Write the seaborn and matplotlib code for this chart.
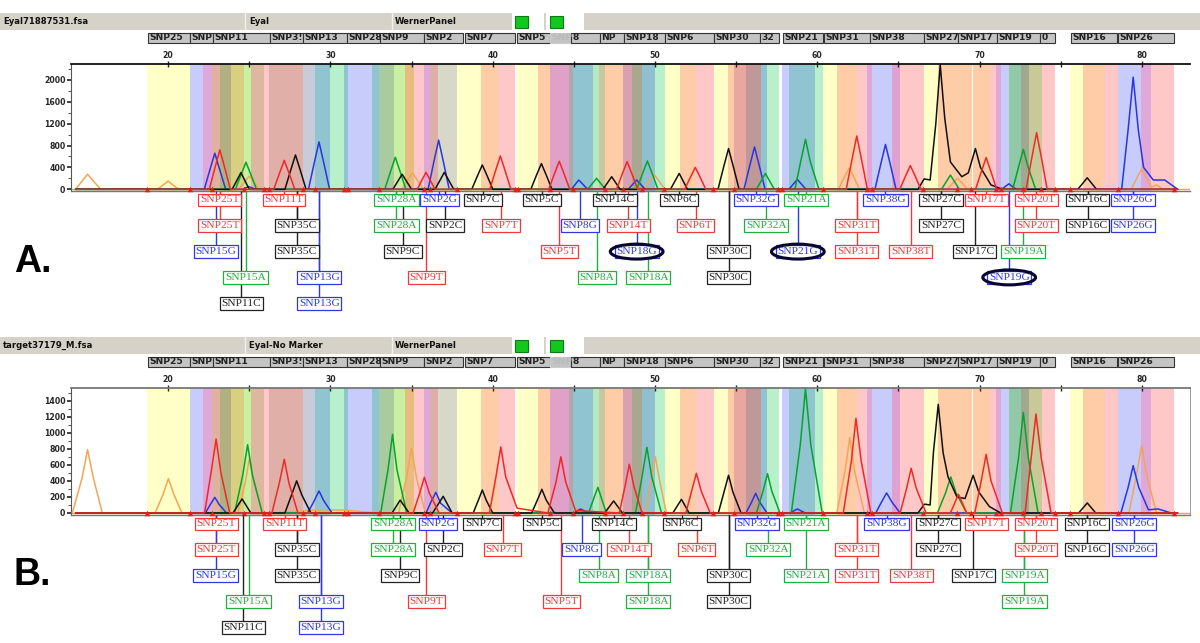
import matplotlib
matplotlib.use("Agg")
import matplotlib.pyplot as plt
from matplotlib.patches import Rectangle, Ellipse
import pandas as pd
import seaborn as sns

# ---------- shaded SNP bands (x in size units) ----------
band_start = [18.73,21.35,22.17,22.72,23.2,23.9,24.68,25.08,25.9,26.2,28.3,29.03,29.97,30.82,31.08,32.55,33,33.9,34.58,35.15,35.78,36.14,36.6,37.8,39.3,40.3,41.5,42.8,43.55,44.68,44.95,46.2,46.58,46.91,48,48.58,49.17,50,50.59,51.56,52.52,53.61,54.48,54.88,55.59,56.51,56.91,57.85,58.28,59.86,60.33,61.23,62.45,63.04,63.35,64.58,65.12,66.6,67.45,69.58,70.64,71,71.34,71.79,72.55,73.02,73.82,75.59,76.34,77.64,78.51,79.93,80.54]
band_end = [21.35,22.17,22.72,23.2,23.9,24.68,25.08,25.9,26.2,28.3,29.03,29.97,30.82,31.08,32.55,33,33.9,34.58,35.15,35.78,36.14,36.6,37.8,39.3,40.3,41.4,42.8,43.55,44.68,44.95,46.2,46.58,46.91,48,48.58,49.17,50,50.59,51.56,52.52,53.61,54.48,54.88,55.59,56.51,56.91,57.62,58.28,59.86,60.33,61.23,62.45,63.04,63.35,64.58,65.12,66.6,67.45,69.53,70.64,71,71.34,71.79,72.55,73.02,73.82,74.62,76.34,77.64,78.51,79.93,80.54,81.98]
band_color = ["#ffffc8","#c8ccfa","#e0a8d8","#e0b0a0","#b0b080","#d8d080","#c8f0a0","#dcb8a0","#ffc8c8","#e0b0a8","#c8ccd8","#90c4d0","#b8f0cc","#90c4d0","#c8ccfa","#90c4d0","#a8cca0","#c8f0a0","#e8bc80","#ffc8c8","#e0a8d8","#dcb0a8","#d8d8c8","#ffffc8","#ffcca8","#ffc8c8","#ffffc8","#ffcca8","#e0a0c8","#b0a8a8","#90c4d0","#b8e8c0","#c8c8a0","#ffcca8","#d8a0b0","#a8a890","#90c0d0","#b8f0cc","#ffffc8","#ffcca8","#ffc8c8","#ffffc8","#ffcca8","#e8a8a0","#c09898","#90c4d0","#b8f0cc","#c8ccfa","#90c4d0","#b8f0cc","#ffffc8","#ffcca8","#ffc8c8","#e0a8d8","#c8ccfa","#e0a0d0","#ffc8c8","#ffffc8","#ffcca8","#ffcca8","#ffc8c8","#e0a8d8","#c8ccfa","#90c8a8","#a0a890","#c8c898","#ffc8c8","#ffffc8","#ffcca8","#ffc8c8","#c8ccfa","#e0a8d8","#ffc8c8"]

size_marks = [18.73,21.35,22.72,24.68,25.9,26.2,28.3,29.03,30.82,31.08,33,35.78,36.14,37.8,41.4,41.55,43.55,44.95,46.91,48,49.17,50.54,53.58,54.84,57.55,57.85,60.33,63.04,63.35,66.53,68.58,69.46,71,71.34,72.65,73.78,74.62,75.59,78.51,81.98]

# ---------- panel A traces ----------
a_blue_x = [14.3,22.23,22.58,22.88,23.18,23.55,24.6,24.96,25.4,28.65,29.0,29.3,29.6,29.95,36.02,36.37,36.67,36.97,37.32,44.85,45.3,45.85,48.35,48.87,49.4,55.48,55.83,56.13,56.43,56.78,58.25,58.77,59.3,63.55,63.9,64.2,64.5,64.85,71.35,71.8,72.25,78.75,79.15,79.46,79.77,80.1,80.7,81.4,82.2]
a_blue_y = [0,0,360,660,360,0,0,50,0,0,475,866,475,0,0,495,900,495,0,0,170,0,0,170,0,0,425,775,425,0,0,180,0,0,450,820,450,0,0,100,0,0,1100,2050,1100,400,170,170,0]
a_green_x = [14.3,24.15,24.5,24.8,25.1,25.45,33.35,33.7,34,34.3,34.65,45.85,46.4,46.95,48.88,49.23,49.53,49.83,50.18,56.25,56.8,57.35,58.62,58.97,59.27,59.57,60.1,67.65,68.2,68.75,72.04,72.39,72.69,72.99,73.45,75.2]
a_green_y = [0,0,270,495,270,0,0,320,586,320,0,0,200,0,0,285,518,285,0,0,290,0,0,500,915,500,0,0,260,0,0,400,730,400,0,0]
a_black_x = [14.3,23.95,24.49,25.0,27.2,27.55,27.85,28.15,28.5,33.85,34.42,35.0,36.45,37.02,37.6,38.71,39.06,39.36,39.66,40.01,42.35,42.7,43,43.3,43.65,46.8,47.33,47.85,50.95,51.49,52.0,53.88,54.23,54.53,54.83,55.18,66.2,66.58,66.95,67.3,67.57,67.85,68.2,68.9,69.3,69.74,70.05,70.7,71.4,76.05,76.63,77.2,82.2]
a_black_y = [0,0,305,0,0,345,628,345,0,0,275,0,0,310,0,0,245,445,245,0,0,260,470,260,0,0,230,0,0,290,0,0,410,745,410,0,0,190,170,1200,2280,1300,500,230,300,745,400,80,0,0,210,0,0]
a_red_x = [14.3,22.54,22.89,23.19,23.49,23.84,26.51,26.86,27.16,27.46,27.81,35.35,35.89,36.45,39.82,40.17,40.47,40.77,41.12,43.45,43.8,44.1,44.4,44.75,47.63,47.98,48.28,48.58,48.93,51.83,52.18,52.48,52.78,53.13,61.78,62.13,62.43,62.73,63.08,65.08,65.43,65.73,66.03,66.38,69.75,70.1,70.4,70.7,71.05,72.86,73.21,73.51,73.81,74.16,82.2]
a_red_y = [0,0,395,720,395,0,0,290,530,290,0,0,310,0,0,335,610,335,0,0,280,513,280,0,0,280,506,280,0,0,220,400,220,0,0,535,976,535,0,0,240,433,240,0,0,320,580,320,0,0,570,1037,570,0,0]
a_orange_x = [14.3,14.7,15.04,15.4,15.85,19.35,19.72,20,20.28,20.65,24.35,24.7,25,25.3,25.65,34.4,34.76,35.06,35.36,35.75,49.3,49.65,49.95,50.25,50.6,61.3,61.66,61.96,62.26,62.6,68,68.33,68.63,68.93,69.25,79.35,79.68,79.98,80.28,80.6,80.9,81.3,82.2]
a_orange_y = [0,150,275,150,0,0,85,150,85,0,0,130,240,130,0,0,165,300,165,0,0,150,270,150,0,0,215,390,215,0,0,110,200,110,0,0,205,370,205,40,80,0,0]

# ---------- panel B traces ----------
b_blue_x = [14.3,22.3,22.6,22.88,23.15,23.6,28.6,29.0,29.3,29.6,30.1,35.9,36.2,36.5,36.8,37.5,45,45.41,45.9,55.6,55.95,56.2,56.45,56.9,58.3,58.77,59.25,63.6,63.95,64.27,64.6,65.1,78.7,79.15,79.46,79.8,80.4,81,81.8]
b_blue_y = [0,0,105,195,105,0,0,150,274,150,0,0,140,258,120,0,0,50,0,0,135,245,135,0,0,50,0,0,135,250,135,0,0,320,590,320,40,50,0]
b_green_x = [14.3,24.1,24.6,24.9,25.2,25.8,33.1,33.55,33.83,34.1,34.7,45.9,46.48,47,48.8,49.2,49.5,49.8,50.4,56.25,56.65,56.93,57.2,57.7,58.4,58.95,59.27,59.6,60.3,67.4,67.9,68.22,68.55,69.2,71.9,72.4,72.69,73,73.6,75.2]
b_green_y = [0,0,470,852,470,0,0,540,980,540,0,0,320,0,0,450,819,450,0,0,270,490,270,0,0,850,1550,850,0,0,250,450,250,0,0,690,1255,690,0,0]
b_black_x = [14.3,24,24.56,25.1,27.2,27.6,27.92,28.25,28.8,33.8,34.3,34.85,36.3,36.95,37.5,38.8,39.12,39.36,39.6,40,42.4,42.75,43.03,43.3,43.8,46.9,47.45,48,51.1,51.63,52.1,53.9,54.25,54.53,54.8,55.3,66.2,66.6,66.95,67.15,67.45,67.75,68.05,68.6,69.1,69.6,69.95,70.6,71.3,76.1,76.63,77.15,82.2]
b_black_y = [0,0,175,0,0,220,400,220,0,0,160,0,0,208,0,0,160,287,160,0,0,160,295,160,0,0,150,0,0,170,0,0,260,470,260,0,0,110,100,750,1355,750,450,200,180,470,260,80,0,0,125,0,0]
b_red_x = [14.3,22.25,22.65,22.96,23.25,23.8,26.4,26.85,27.16,27.45,28,35.1,35.5,35.79,36.1,36.7,39.8,40.2,40.5,40.8,41.5,43.4,43.9,44.2,44.5,45.1,47.8,48.15,48.42,48.7,49.2,51.9,52.25,52.55,52.85,53.4,61.6,62.1,62.38,62.7,63.3,65.1,65.5,65.78,66.1,66.7,68.2,68.7,69.2,69.7,70.1,70.4,70.7,71.4,72.8,73.17,73.47,73.8,74.4,82.2]
b_red_y = [0,0,505,922,505,0,0,370,670,370,0,0,245,445,245,0,0,450,823,450,60,0,385,700,385,30,0,330,607,330,0,0,270,495,270,0,0,650,1180,650,0,0,305,557,305,0,0,232,0,0,400,731,400,0,0,680,1234,680,0,0]
b_orange_x = [14.1,14.7,15.04,15.4,15.95,19.2,19.7,20.02,20.35,20.85,24.3,24.75,25,25.3,25.85,29.5,31,32,33,34.2,34.7,34.99,35.3,35.85,49.4,49.75,50.02,50.3,50.7,61.2,61.7,62,62.3,62.9,79.2,79.65,79.98,80.3,80.9,82.2]
b_orange_y = [0,435,790,435,0,0,235,430,235,0,0,370,670,370,0,40,35,15,0,0,445,806,445,0,0,385,700,385,0,0,515,940,515,0,0,460,840,460,0,0]

channel_colors = {"blue": "#2a35e0", "green": "#05a52a", "black": "#101010", "red": "#f02828", "orange": "#f2a655"}

# ---------- callouts: label, x, row, colour ----------
a_calls = [("SNP25T",23.19,0,"red"),("SNP25T",23.19,1,"red"),("SNP15G",22.95,2,"blue"),("SNP15A",24.78,3,"green"),("SNP11C",24.52,4,"black"),("SNP11T",27.14,0,"red"),("SNP35C",27.92,1,"black"),("SNP35C",27.92,2,"black"),("SNP13G",29.31,3,"blue"),("SNP13G",29.31,4,"blue"),("SNP28A",34.07,0,"green"),("SNP28A",34.07,1,"green"),("SNP9C",34.47,2,"black"),("SNP9T",35.91,3,"red"),("SNP2G",36.71,0,"blue"),("SNP2C",37.07,1,"black"),("SNP7C",39.39,0,"black"),("SNP7T",40.52,1,"red"),("SNP5C",43.03,0,"black"),("SNP5T",44.11,2,"red"),("SNP8G",45.37,1,"blue"),("SNP8A",46.43,3,"green"),("SNP14C",47.52,0,"black"),("SNP14T",48.35,1,"red"),("SNP18G",48.87,2,"blue"),("SNP18A",49.58,3,"green"),("SNP6C",51.49,0,"black"),("SNP6T",52.5,1,"red"),("SNP30C",54.53,2,"black"),("SNP30C",54.53,3,"black"),("SNP32G",56.2,0,"blue"),("SNP32A",56.86,1,"green"),("SNP21A",59.32,0,"green"),("SNP21G",58.8,2,"blue"),("SNP31T",62.43,1,"red"),("SNP31T",62.43,2,"red"),("SNP38G",64.2,0,"blue"),("SNP38T",65.75,2,"red"),("SNP27C",67.62,0,"black"),("SNP27C",67.62,1,"black"),("SNP17T",70.4,0,"red"),("SNP17C",69.69,2,"black"),("SNP19G",71.82,3,"blue"),("SNP19A",72.69,2,"green"),("SNP20T",73.49,0,"red"),("SNP20T",73.49,1,"red"),("SNP16C",76.65,0,"black"),("SNP16C",76.65,1,"black"),("SNP26G",79.43,0,"blue"),("SNP26G",79.43,1,"blue")]
a_circled = [("SNP18G",48.87,2),("SNP21G",58.8,2),("SNP19G",71.82,3)]
b_calls = [("SNP25T",22.98,0,"red"),("SNP25T",22.98,1,"red"),("SNP15G",22.93,2,"blue"),("SNP15A",24.96,3,"green"),("SNP11C",24.63,4,"black"),("SNP11T",27.19,0,"red"),("SNP35C",27.92,1,"black"),("SNP35C",27.92,2,"black"),("SNP13G",29.41,3,"blue"),("SNP13G",29.41,4,"blue"),("SNP28A",33.88,0,"green"),("SNP28A",33.88,1,"green"),("SNP9C",34.3,2,"black"),("SNP9T",35.91,3,"red"),("SNP2G",36.62,0,"blue"),("SNP2C",36.95,1,"black"),("SNP7C",39.36,0,"black"),("SNP7T",40.61,1,"red"),("SNP5C",43.05,0,"black"),("SNP5T",44.23,3,"red"),("SNP8G",45.48,1,"blue"),("SNP8A",46.53,2,"green"),("SNP14C",47.45,0,"black"),("SNP14T",48.4,1,"red"),("SNP18A",49.58,2,"green"),("SNP18A",49.58,3,"green"),("SNP6C",51.64,0,"black"),("SNP6T",52.57,1,"red"),("SNP30C",54.53,2,"black"),("SNP30C",54.53,3,"black"),("SNP32G",56.27,0,"blue"),("SNP32A",56.98,1,"green"),("SNP21A",59.3,0,"green"),("SNP21A",59.3,2,"green"),("SNP31T",62.43,1,"red"),("SNP31T",62.43,2,"red"),("SNP38G",64.27,0,"blue"),("SNP38T",65.8,2,"red"),("SNP27C",67.45,0,"black"),("SNP27C",67.45,1,"black"),("SNP17T",70.4,0,"red"),("SNP17C",69.62,2,"black"),("SNP19A",72.76,2,"green"),("SNP19A",72.76,3,"green"),("SNP20T",73.47,0,"red"),("SNP20T",73.47,1,"red"),("SNP16C",76.6,0,"black"),("SNP16C",76.6,1,"black"),("SNP26G",79.52,0,"blue"),("SNP26G",79.52,1,"blue")]

# ---------- chrome text ----------
strip_labels = ["SNP25","SNP","SNP11","SNP3!","SNP13","SNP28","SNP9","SNP2","SNP7","SNP5","SNP","8","NP","SNP18","SNP6","SNP30","32","SNP21","SNP31","SNP38","SNP27","SNP17","SNP19","0","SNP16","SNP26"]
strip_left  = [148,190,213,270,303,347,380,424,465,517,550,571,600,624,665,714,760,783,824,870,924,958,997,1040,1071,1118]
strip_right = [190,213,270,303,347,380,424,463,515,550,571,600,624,665,714,760,779,823,870,924,958,997,1040,1055,1117,1174]
a_header = ["Eyal71887531.fsa","Eyal","WernerPanel"]
b_header = ["target37179_M.fsa","Eyal-No Marker","WernerPanel"]
x_major = [20,30,40,50,60,70,80]
x_minor = [25,35,45,55,65,75]
a_y_major = [0,400,800,1200,1600,2000]
a_y_minor = [200,600,1000,1400,1800,2200]
b_y_major = [0,200,400,600,800,1000,1200,1400]
b_y_minor = [100,300,500,700,900,1100,1300,1500]

W, H = 1200, 643
sns.set_theme(style="white")
plt.rcParams["font.family"] = ["DejaVu Sans"]
fig = plt.figure(figsize=(W/100, H/100), dpi=100, facecolor="white")

def pix_axes(l, t, r, b):
    return fig.add_axes([l/W, 1-b/H, (r-l)/W, (b-t)/H])

chrome = pix_axes(0, 0, W, H)
chrome.set_xlim(0, W); chrome.set_ylim(H, 0); chrome.axis("off")

def draw_header(y, texts):
    chrome.add_patch(Rectangle((0, y), W, 17, fc="#d6d2c9", ec="none"))
    for xs in (245, 392):
        chrome.plot([xs, xs], [y, y+17], color="#f4f2ee", lw=1)
    chrome.add_patch(Rectangle((512, y), 32, 17, fc="white", ec="none"))
    chrome.add_patch(Rectangle((546, y), 38, 17, fc="white", ec="none"))
    for gx in (515, 550):
        chrome.add_patch(Rectangle((gx, y+2.5), 13, 12, fc="#12c81e", ec="#0a7a12", lw=0.8))
    for tx, s in zip((3, 249, 395), texts):
        chrome.text(tx, y+8.5, s, fontsize=6.1, fontweight="bold", va="center", ha="left", color="#111111")
    sy = y + 20
    for s, l, r in zip(strip_labels, strip_left, strip_right):
        ghost = (l == 550)
        chrome.add_patch(Rectangle((l, sy), r-l, 9.5, fc="#c4c4c4", ec="#cccccc" if ghost else "#333333", lw=0.8))
        chrome.text(l+1.5, sy+4.9, s, fontsize=6.6, fontweight="bold", va="center", ha="left",
                    color="#bbbbbb" if ghost else "#222222", clip_on=True)

draw_header(13, a_header)
draw_header(337, b_header)
chrome.text(14, 262, "A.", fontsize=27, fontweight="bold", family="Liberation Sans", va="center", ha="left", color="black")
chrome.text(14, 575, "B.", fontsize=27, fontweight="bold", family="Liberation Sans", va="center", ha="left", color="black")

def make_frame(series):
    rows = []
    for name, xs, ys in series:
        rows.append(pd.DataFrame({"size": xs, "rfu": ys, "channel": name}))
    return pd.concat(rows, ignore_index=True)

def draw_panel(top, bottom, ylim, major, minor, series, top_color, show_right):
    ax = pix_axes(71, top, 1190, bottom)
    ax.patch.set_alpha(0)
    ax.set_xlim(14.02, 82.96); ax.set_ylim(*ylim)
    for s, e, c in zip(band_start, band_end, band_color):
        ax.axvspan(s, e, color=c, lw=0, zorder=0)
    sns.lineplot(data=make_frame(series), x="size", y="rfu", hue="channel", palette=channel_colors,
                 hue_order=["orange","blue","green","black","red"], estimator=None, sort=False,
                 lw=1.1, legend=False, ax=ax, zorder=3)
    sns.scatterplot(x=size_marks, y=[0]*len(size_marks), marker="^", color="#f01818", s=16,
                    linewidth=0, ax=ax, zorder=4, clip_on=False)
    ax.axhline(0, color="#f2a655", lw=1, zorder=2)
    ax.set_xlabel(""); ax.set_ylabel("")
    ax.xaxis.tick_top()
    ax.set_xticks(x_major); ax.set_xticks(x_minor, minor=True)
    ax.set_xticklabels([str(v) for v in x_major], fontsize=5.6, fontweight="bold")
    ax.set_yticks(major); ax.set_yticks(minor, minor=True)
    ax.set_yticklabels([str(v) for v in major], fontsize=5.6, fontweight="bold")
    ax.tick_params(axis="x", which="both", top=True, bottom=False, direction="inout", length=5, width=1, color="#222222", pad=0.5)
    ax.tick_params(axis="y", which="major", left=True, direction="out", length=3, width=1.2, color="#222222", pad=1)
    ax.tick_params(axis="y", which="minor", left=True, direction="out", length=2, width=0.7, color="#555555")
    for side in ("top", "left", "bottom"):
        ax.spines[side].set_visible(True)
    ax.spines["right"].set_visible(show_right)
    ax.spines["top"].set_color(top_color); ax.spines["top"].set_linewidth(1.3)
    ax.spines["left"].set_color("#555555"); ax.spines["left"].set_linewidth(0.8)
    ax.spines["right"].set_color("#888888"); ax.spines["right"].set_linewidth(0.6)
    ax.spines["bottom"].set_color("#777777"); ax.spines["bottom"].set_linewidth(1.0)
    return ax

def draw_calls(top, bottom, row0, calls, circled=()):
    pitch = 25.8
    ca = pix_axes(71, top, 1190, bottom)
    ca.patch.set_alpha(0); ca.axis("off")
    ca.set_xlim(14.02, 82.96)
    ca.set_ylim((bottom-row0)/pitch, (top-row0)/pitch)
    css = {"red": "#f03a3a", "blue": "#3038e0", "green": "#20b040", "black": "#222222"}
    for lab, x, r, c in calls:
        ca.plot([x, x], [(top-row0)/pitch, r], color=css[c], lw=1.0, zorder=1, solid_capstyle="butt")
    for lab, x, r, c in calls:
        ca.text(x, r, lab, fontsize=8.2, family="Liberation Serif", color=css[c], ha="center", va="center", zorder=3,
                bbox=dict(boxstyle="square,pad=0.16", fc="white", ec=css[c], lw=0.9))
    for lab, x, r in circled:
        ca.add_patch(Ellipse((x, r), 3.25, 0.58, fc="none", ec="#070730", lw=2.2, zorder=4))

draw_panel(64.3, 190.5, (-22, 2286), a_y_major, a_y_minor,
           [("orange", a_orange_x, a_orange_y), ("blue", a_blue_x, a_blue_y), ("green", a_green_x, a_green_y),
            ("black", a_black_x, a_black_y), ("red", a_red_x, a_red_y)], "#111111", False)
draw_panel(387.7, 514.5, (-19, 1562), b_y_major, b_y_minor,
           [("orange", b_orange_x, b_orange_y), ("blue", b_blue_x, b_blue_y), ("green", b_green_x, b_green_y),
            ("black", b_black_x, b_black_y), ("red", b_red_x, b_red_y)], "#777777", True)
draw_calls(190.5, 322, 200, a_calls, a_circled)
draw_calls(514.5, 642, 524, b_calls)

fig.savefig("out.png", dpi=100, facecolor="white")
